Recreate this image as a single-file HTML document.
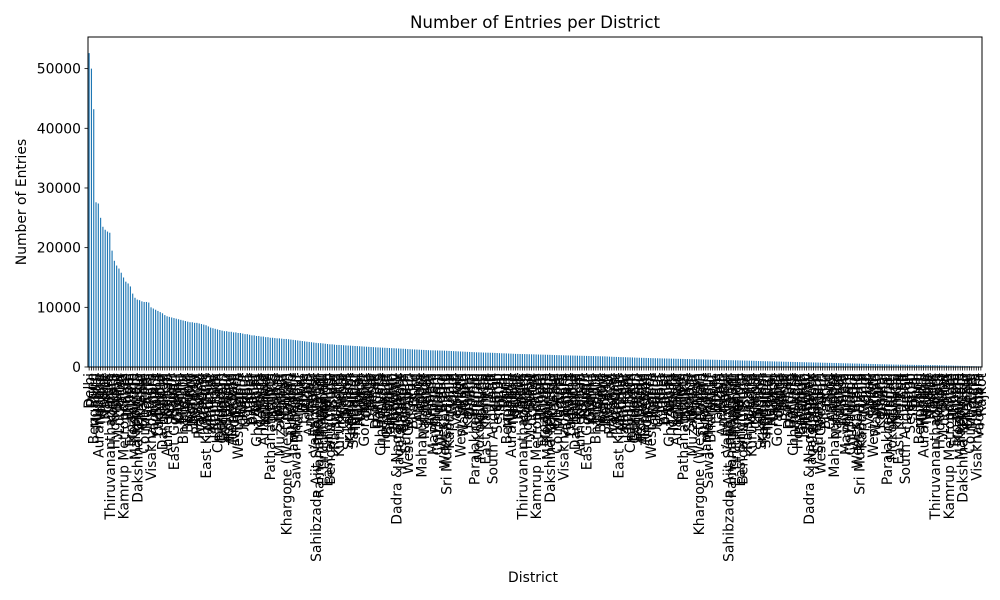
<!DOCTYPE html>
<html><head><meta charset="utf-8"><style>
html,body{margin:0;padding:0;background:#fff;}
svg{display:block;font-family:"DejaVu Sans","Liberation Sans",sans-serif;}
</style></head><body>
<svg id="chart" width="1000" height="600" viewBox="0 0 1000 600">
<rect x="0" y="0" width="1000" height="600" fill="#fff"/>
<text x="535" y="28" font-size="16.7" text-anchor="middle">Number of Entries per District</text>
<text x="533" y="582" font-size="13.9" text-anchor="middle">District</text>
<text transform="translate(26,202) rotate(-90)" font-size="13.9" text-anchor="middle">Number of Entries</text>
<g id="bars"></g>
<g id="xticks"></g>
<g id="yticks"></g>
<rect x="88" y="37" width="894" height="330" fill="none" stroke="#000" stroke-width="1"/>
</svg>
<script>
const values = [
52600,50000,43200,27600,27400,25000,23500,23000,22700,22500,
19500,17800,17000,16500,15800,15000,14300,14000,13500,12300,
11600,11300,11200,11000,10900,10900,10800,10000,9800,9600,
9400,9200,9000,8700,8500,8400,8300,8200,8100,8000,
7900,7800,7700,7600,7500,7500,7400,7400,7300,7200,
7100,7000,6800,6600,6500,6400,6300,6200,6100,6000,
6000,5900,5900,5800,5800,5700,5700,5600,5500,5500,
5400,5300,5300,5200,5200,5100,5100,5000,5000,4900,
4900,4850,4800,4800,4750,4700,4700,4650,4600,4550,
4500,4450,4400,4350,4300,4250,4200,4150,4100,4050,
4000,4000,3950,3900,3850,3800,3800,3750,3700,3700,
3680,3650,3620,3600,3580,3550,3520,3500,3480,3450,
3420,3400,3380,3350,3330,3300,3280,3260,3240,3220,
3200,3180,3160,3140,3120,3100,3080,3060,3040,3000,
2980,2960,2940,2920,2900,2880,2860,2840,2820,2800,
2790,2780,2770,2760,2750,2740,2720,2700,2680,2660,
2640,2620,2600,2580,2560,2540,2520,2500,2480,2460,
2450,2440,2420,2410,2400,2390,2380,2360,2340,2320,
2300,2290,2280,2260,2240,2220,2200,2190,2180,2170,
2160,2150,2140,2130,2120,2100,2090,2080,2070,2060,
2050,2040,2020,2000,1990,1980,1970,1960,1950,1940,
1930,1920,1910,1900,1890,1880,1870,1860,1850,1840,
1830,1820,1810,1800,1790,1780,1760,1740,1720,1700,
1690,1680,1660,1650,1640,1620,1610,1600,1580,1560,
1550,1540,1530,1520,1500,1490,1480,1470,1460,1450,
1440,1430,1420,1410,1400,1390,1380,1370,1360,1350,
1340,1330,1320,1310,1300,1290,1280,1270,1260,1250,
1240,1230,1220,1210,1200,1190,1180,1170,1160,1150,
1140,1130,1120,1110,1100,1090,1080,1070,1060,1050,
1040,1020,1000,990,980,970,960,950,940,930,
920,910,900,890,880,870,860,850,840,830,
820,810,800,790,780,770,760,750,740,730,
720,710,700,690,680,670,660,650,640,630,
620,610,600,590,580,570,560,550,540,530,
520,510,500,490,480,470,460,450,440,430,
420,410,400,395,390,385,380,375,370,360,
355,350,345,340,335,330,325,320,315,310,
300,290,280,270,260,250,240,230,220,210,
200,190,180,170,160,150,140,130,120,110
];
const baseNames = ["Delhi","Pune","Bengaluru","Mumbai","Aurangabad","Nagpur","Thane","Nashik","Jaipur","Thiruvananthapuram","Kolkata","Hyderabad","Surat","Lucknow","Patna","Kamrup Metropolitan","Indore","Bhopal","Ernakulam","Kozhikode","Malappuram","Dakshina Kannada","Thrissur","Chennai","Coimbatore","Madurai","Agra","Visakhapatnam","Vadodara","Rajkot","Ludhiana","Kanpur","Darbhanga","Ranchi","Ahmedabad","Kollam","Raipur","East Godavari","Guntur","Krishna","Mysuru","Bhagalpur","Gaya","Belagavi","Jodhpur","Bareilly","Meerut","Palakkad","Prayagraj","Varanasi","Kannur","East Khasi Hills","Amritsar","Jalandhar","Khordha","Cuttack","Chandigarh","Dehradun","Gurugram","Faridabad","Solapur","Kottayam","Alappuzha","Tirunelveli","Salem","West Tripura","Jabalpur","Gwalior","Udaipur","Kota","Ajmer","Bikaner","Panipat","Ghaziabad","Noida","Mathura","Anantapur","Kurnool","Nellore","Pathanamthitta","Idukki","Jammu","Srinagar","Muzaffarpur","Purnia","Siwan","Khargone (West Nimar)","Bokaro","Dhanbad","Jamshedpur","Sawai Madhopur","Bharatpur","Alwar","Dhule","Jalgaon","Akola","Amravati","Latur","Vallabhbhai","Sahibzada Ajit Singh Nagar","Ramanathapuram","Thanjavur","Tiruchirappalli","Vellore","East Singhbhum","Bengaluru Rural","Sikar","Rajsamand","Wardha","Kurukshetra","Karnal","Chittoor","Kadapa","Srikakulam","Kendujhar","Sambalpur","Haridwar","Nainital","Nagaon","Jorhat","Gorakhpur","Gonda","Ballia","Hisar","Rohtak","Darrang","Barpeta","Chhindwara","Sagar","Hoshiarpur","Bathinda","Jalpaiguri","Howrah","Hooghly","Dadra & Nagar Haveli","Jagatsinghpur","Balasore","Sonitpur","Sundargarh","West Godavari","Puri","Bilaspur","Durg","Chamoli","Almora","Mahabubnagar","Nalgonda","Latehar","Sirsa","Ambala","Mayurbhanj","Phulbani","Chitradurga","Udupi","West Siang","West Kameng","Sri Muktsar Sahib","Kapurthala","Mandi","Kullu","Vaishali","Janjgir","West Sikkim","Wayanad","Mahe","Karaikal","Dhalai","Shimla","Paralakhemundi","Gajapati","Mokokchung","Kohima","Namsai","East Kameng","Leh","Lohit","South Andaman","Kargil","Serchhip","Saitual"];
const categories = [];
for (let i = 0; i < values.length; i++) categories.push(baseNames[i % baseNames.length]);
const yTickValues = [0,10000,20000,30000,40000,50000];
const yTickLabels = ["0","10000","20000","30000","40000","50000"];

const NS = "http://www.w3.org/2000/svg";
const plotL = 88, plotR = 982, plotT = 37, plotB = 367;
const yMax = 55300;
const n = values.length;
function xScale(i) { return plotL + (i + 0.5) * (plotR - plotL) / n; }
function yScale(v) { return plotB - v / yMax * (plotB - plotT); }
const step = (plotR - plotL) / n;
const bw = step * 0.5;

const barsG = document.getElementById('bars');
const xg = document.getElementById('xticks');
values.forEach((v, i) => {
  const r = document.createElementNS(NS, 'rect');
  
  
  const y = yScale(v);
  r.setAttribute('x', xScale(i) - bw / 2);
  r.setAttribute('y', y);
  r.setAttribute('width', bw);
  r.setAttribute('height', plotB - y);
  r.setAttribute('fill', '#1f77b4');
  barsG.appendChild(r);

  const t = document.createElementNS(NS, 'line');
  
  
  t.setAttribute('x1', xScale(i)); t.setAttribute('x2', xScale(i));
  t.setAttribute('y1', plotB); t.setAttribute('y2', plotB + 3.5);
  t.setAttribute('stroke', '#000'); t.setAttribute('stroke-width', '0.8');
  xg.appendChild(t);

  const lb = document.createElementNS(NS, 'text');
  
  
  lb.setAttribute('font-size', '13.9');
  lb.setAttribute('text-anchor', 'end');
  lb.setAttribute('transform', 'translate(' + (xScale(i) + 5) + ',' + (plotB + 6) + ') rotate(-90)');
  lb.textContent = categories[i];
  xg.appendChild(lb);
});

const yg = document.getElementById('yticks');
yTickValues.forEach((v, k) => {
  const y = yScale(v);
  const t = document.createElementNS(NS, 'line');
  
  
  t.setAttribute('x1', plotL - 3.5); t.setAttribute('x2', plotL);
  t.setAttribute('y1', y); t.setAttribute('y2', y);
  t.setAttribute('stroke', '#000'); t.setAttribute('stroke-width', '0.8');
  yg.appendChild(t);
  const lb = document.createElementNS(NS, 'text');
  
  
  lb.setAttribute('x', plotL - 7);
  lb.setAttribute('y', y + 5);
  lb.setAttribute('font-size', '13.9');
  lb.setAttribute('text-anchor', 'end');
  lb.textContent = yTickLabels[k];
  yg.appendChild(lb);
});
</script>
</body></html>
